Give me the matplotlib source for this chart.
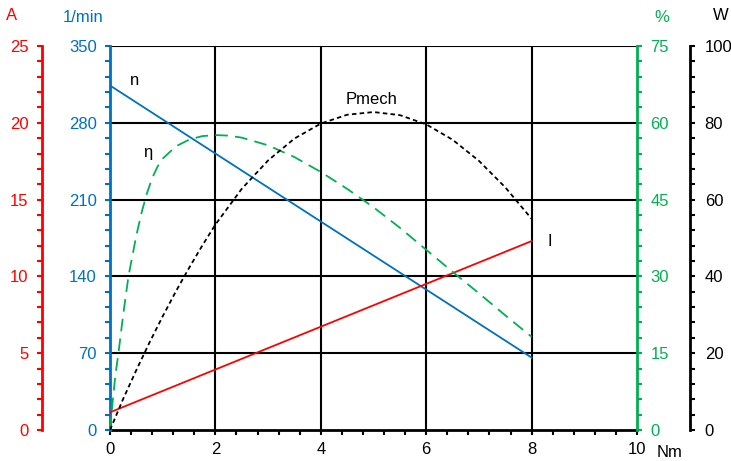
import numpy as np
import matplotlib.pyplot as plt
from matplotlib.ticker import MultipleLocator

plt.rcParams['font.family'] = ['Liberation Sans', 'DejaVu Sans']
plt.rcParams['font.size'] = 12

# torque axis (Nm)
torque = [0, 0.25, 0.5, 0.75, 1, 1.25, 1.5, 1.75, 2, 2.5, 3, 3.5, 4, 4.5, 5, 5.5, 6, 6.5, 7, 7.5, 8]

# speed n (1/min), straight line
n_torque = [0, 8]
n_speed = [314, 66]

# current I (A), straight line
i_torque = [0, 8]
i_current = [1.15, 12.3]

# mechanical power (W)
p_mech = [0, 8.1, 15.6, 22.8, 29.6, 36.1, 42.2, 48.0, 53.5, 62.8, 70.2, 75.9, 79.8, 82.1, 82.8, 82.0, 79.6, 75.6, 70.1, 63.2, 55.0]

# efficiency (%), denser near the start
eta_torque = [0, 0.05, 0.1, 0.16, 0.25, 0.35, 0.5, 0.6, 0.7, 0.8, 0.9, 1.0, 1.25, 1.5, 1.75, 2.0, 2.25, 2.5, 3.0, 3.5, 4.0, 4.5, 5.0, 5.5, 6.0, 6.5, 7.0, 7.5, 8.0]
eta = [0, 5.5, 10.5, 15, 22.5, 30, 38, 42.5, 46.2, 49.2, 51.4, 53.0, 55.4, 56.7, 57.4, 57.6, 57.5, 57.1, 55.6, 53.3, 50.4, 47.1, 43.5, 39.5, 35.2, 30.9, 26.7, 22.4, 18.2]

BLUE = '#0070C0'
RED = '#FF0000'
GREEN = '#00B050'

fig = plt.figure(figsize=(7.31, 4.61), dpi=100)
ax = fig.add_axes([110/731, 1 - 430/461, 527/731, 384/461])

# speed axis (main)
ax.plot(n_torque, n_speed, color=BLUE, lw=1.3, zorder=5)
ax.set_xlim(0, 10)
ax.set_ylim(0, 350)
ax.xaxis.set_major_locator(MultipleLocator(2))
ax.xaxis.set_minor_locator(MultipleLocator(0.4))
ax.yaxis.set_major_locator(MultipleLocator(70))
ax.yaxis.set_minor_locator(MultipleLocator(14))
for x in [2, 4, 6, 8]:
    ax.axvline(x, color='black', lw=1.5, zorder=1)
for y in [70, 140, 210, 280, 350]:
    ax.axhline(y, color='black', lw=1.5, zorder=1)
ax.spines['top'].set_visible(False)
ax.spines['right'].set_visible(False)
ax.spines['left'].set_color(BLUE)
ax.spines['left'].set_linewidth(2)
ax.spines['bottom'].set_linewidth(2)
ax.spines['left'].set_zorder(6)
ax.tick_params(axis='y', which='both', colors=BLUE, direction='out', width=1.5, length=3.6, pad=6)
ax.tick_params(axis='x', which='both', colors='black', direction='out', width=1.5, length=3.6, pad=5)

# current axis (far left, red)
ax_i = ax.twinx()
ax_i.set_ylim(0, 25)
ax_i.plot(i_torque, i_current, color=RED, lw=1.3, zorder=5)
ax_i.yaxis.set_ticks_position('left')
ax_i.spines['left'].set_position(('axes', -68/527))
for s in ['top', 'right', 'bottom']:
    ax_i.spines[s].set_visible(False)
ax_i.spines['left'].set_color(RED)
ax_i.spines['left'].set_linewidth(2)
ax_i.yaxis.set_major_locator(MultipleLocator(5))
ax_i.yaxis.set_minor_locator(MultipleLocator(1))
ax_i.tick_params(axis='y', which='both', colors=RED, direction='out', width=1.5, length=3.6, pad=6)

# efficiency axis (right, green)
ax_eta = ax.twinx()
ax_eta.set_ylim(0, 75)
ax_eta.plot(eta_torque, eta, color=GREEN, lw=1.3, dashes=(7, 4), zorder=5)
for s in ['top', 'left', 'bottom']:
    ax_eta.spines[s].set_visible(False)
ax_eta.spines['right'].set_color(GREEN)
ax_eta.spines['right'].set_linewidth(2)
ax_eta.yaxis.set_major_locator(MultipleLocator(15))
ax_eta.yaxis.set_minor_locator(MultipleLocator(3))
ax_eta.tick_params(axis='y', which='both', colors=GREEN, direction='out', width=1.5, length=3.6, pad=6)

# power axis (far right, black)
ax_p = ax.twinx()
ax_p.set_ylim(0, 100)
ax_p.plot(torque, p_mech, color='black', lw=1.3, dashes=(2.5, 1.8), zorder=5)
ax_p.spines['right'].set_position(('axes', 1 + 53/527))
for s in ['top', 'left', 'bottom']:
    ax_p.spines[s].set_visible(False)
ax_p.spines['right'].set_linewidth(2)
ax_p.yaxis.set_major_locator(MultipleLocator(20))
ax_p.yaxis.set_minor_locator(MultipleLocator(4))
ax_p.tick_params(axis='y', which='both', colors='black', direction='out', width=1.5, length=3.6, pad=7)

# curve labels
ax.text(0.47, 319, 'n', ha='center', va='center')
ax.text(0.72, 253, 'η', ha='center', va='center')
ax.text(4.97, 301, 'Pmech', ha='center', va='center')
ax.text(8.35, 172, 'I', ha='center', va='center')

# unit labels
fig.text(12/731, 1 - 15/461, 'A', color=RED, ha='center', va='center')
fig.text(83/731, 1 - 18/461, '1/min', color=BLUE, ha='center', va='center')
fig.text(662/731, 1 - 18/461, '%', color=GREEN, ha='center', va='center')
fig.text(729/731, 1 - 16/461, 'W', color='black', ha='right', va='center')
fig.text(670/731, 1 - 452/461, 'Nm', color='black', ha='center', va='center')

fig.savefig('out.png', dpi=100)
